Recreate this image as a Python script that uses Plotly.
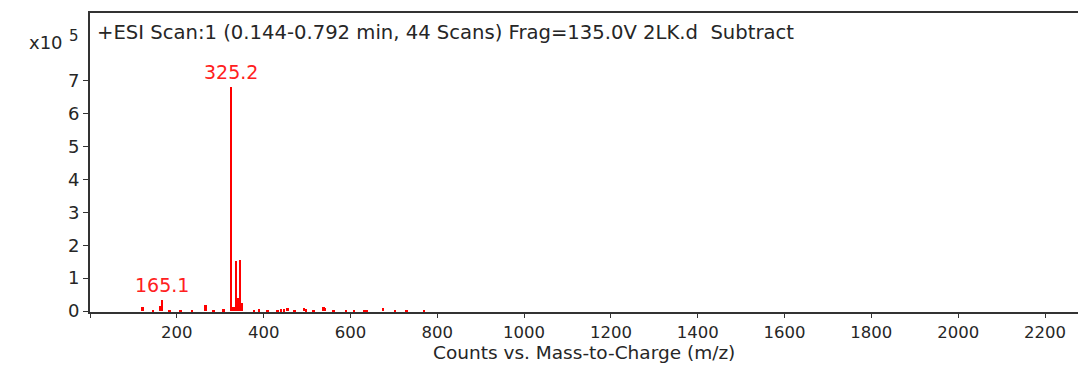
import plotly.graph_objects as go

# m/z values and intensities (x10^5 counts)
mz = [121, 146, 163, 166.5, 184, 209, 236, 267, 285, 308, 325.2, 331, 337, 340, 346, 350,
      378, 390, 409, 432, 440, 448, 456, 472, 494, 498, 515, 538, 541, 562, 590, 609,
      632, 638, 675, 703, 730, 770]
inten = [0.12, 0.03, 0.14, 0.32, 0.03, 0.04, 0.03, 0.19, 0.03, 0.05, 6.81, 0.12, 1.51, 0.4, 1.56, 0.25,
         0.04, 0.05, 0.04, 0.04, 0.05, 0.06, 0.08, 0.04, 0.09, 0.05, 0.04, 0.13, 0.09, 0.04, 0.04, 0.04,
         0.04, 0.04, 0.09, 0.04, 0.04, 0.04]

peak_labels = ["325.2", "165.1"]
peak_mz = [325.2, 166.5]
peak_int = [6.81, 0.32]

x_ticks = [0, 200, 400, 600, 800, 1000, 1200, 1400, 1600, 1800, 2000, 2200]
x_ticktext = [""] + [str(v) for v in x_ticks[1:]]
y_ticks = [0, 1, 2, 3, 4, 5, 6, 7]

title_text = "+ESI Scan:1 (0.144-0.792 min, 44 Scans) Frag=135.0V 2LK.d\u00a0\u00a0Subtract"

FONT = "DejaVu Sans, Arial, sans-serif"
RED = "#ff0000"
TXT = "#262626"
PH = 299  # plot-area height in px

fig = go.Figure()
fig.add_trace(go.Bar(x=mz, y=inten, width=4.5, marker=dict(color=RED, line=dict(width=0)),
                     hoverinfo="x+y"))

annotations = []
for lab, px, py in zip(peak_labels, peak_mz, peak_int):
    annotations.append(dict(x=px, y=py, xref="x", yref="y", text=lab, showarrow=False,
                            yanchor="bottom", yshift=2,
                            font=dict(family=FONT, size=19, color="#ff2020")))

annotations += [
    dict(x=0.005, y=1 - 20 / PH, xref="paper", yref="paper", text=title_text, showarrow=False,
         xanchor="left", yanchor="middle", font=dict(family=FONT, size=19.6, color=TXT)),
    dict(x=-63 / 988, y=1 - 29 / PH, xref="paper", yref="paper", text="x10", showarrow=False,
         xanchor="left", yanchor="middle", font=dict(family=FONT, size=18, color=TXT)),
    dict(x=-23 / 988, y=1 - 23 / PH, xref="paper", yref="paper", text="5", showarrow=False,
         xanchor="left", yanchor="middle", font=dict(family=FONT, size=15, color=TXT)),
    dict(x=0.5, y=0, xref="paper", yref="paper", text="Counts vs. Mass-to-Charge (m/z)",
         showarrow=False, xanchor="center", yanchor="top", yshift=-28,
         font=dict(family=FONT, size=18.5, color=TXT)),
]

fig.update_layout(
    width=1078, height=365,
    margin=dict(l=90, r=0, t=13, b=53),
    paper_bgcolor="white", plot_bgcolor="white",
    showlegend=False, bargap=0,
    font=dict(family=FONT, size=17, color=TXT),
    annotations=annotations,
    xaxis=dict(range=[0, 2276], tickvals=x_ticks, ticktext=x_ticktext,
               showgrid=False, zeroline=False, showline=True, linecolor="#333", linewidth=2,
               mirror=True, ticks="outside", ticklen=4, tickcolor="#333",
               tickfont=dict(family=FONT, size=16.5, color=TXT)),
    yaxis=dict(range=[-0.03, 9.06], tickvals=y_ticks, showgrid=False, zeroline=False,
               showline=True, linecolor="#333", linewidth=2, ticks="outside", ticklen=5,
               tickcolor="#333", tickfont=dict(family=FONT, size=18, color=TXT)),
)

fig.write_html(
    "out.html",
    config={"displayModeBar": False},
    post_script="document.body.style.margin='0';document.body.style.overflow='hidden';",
)
